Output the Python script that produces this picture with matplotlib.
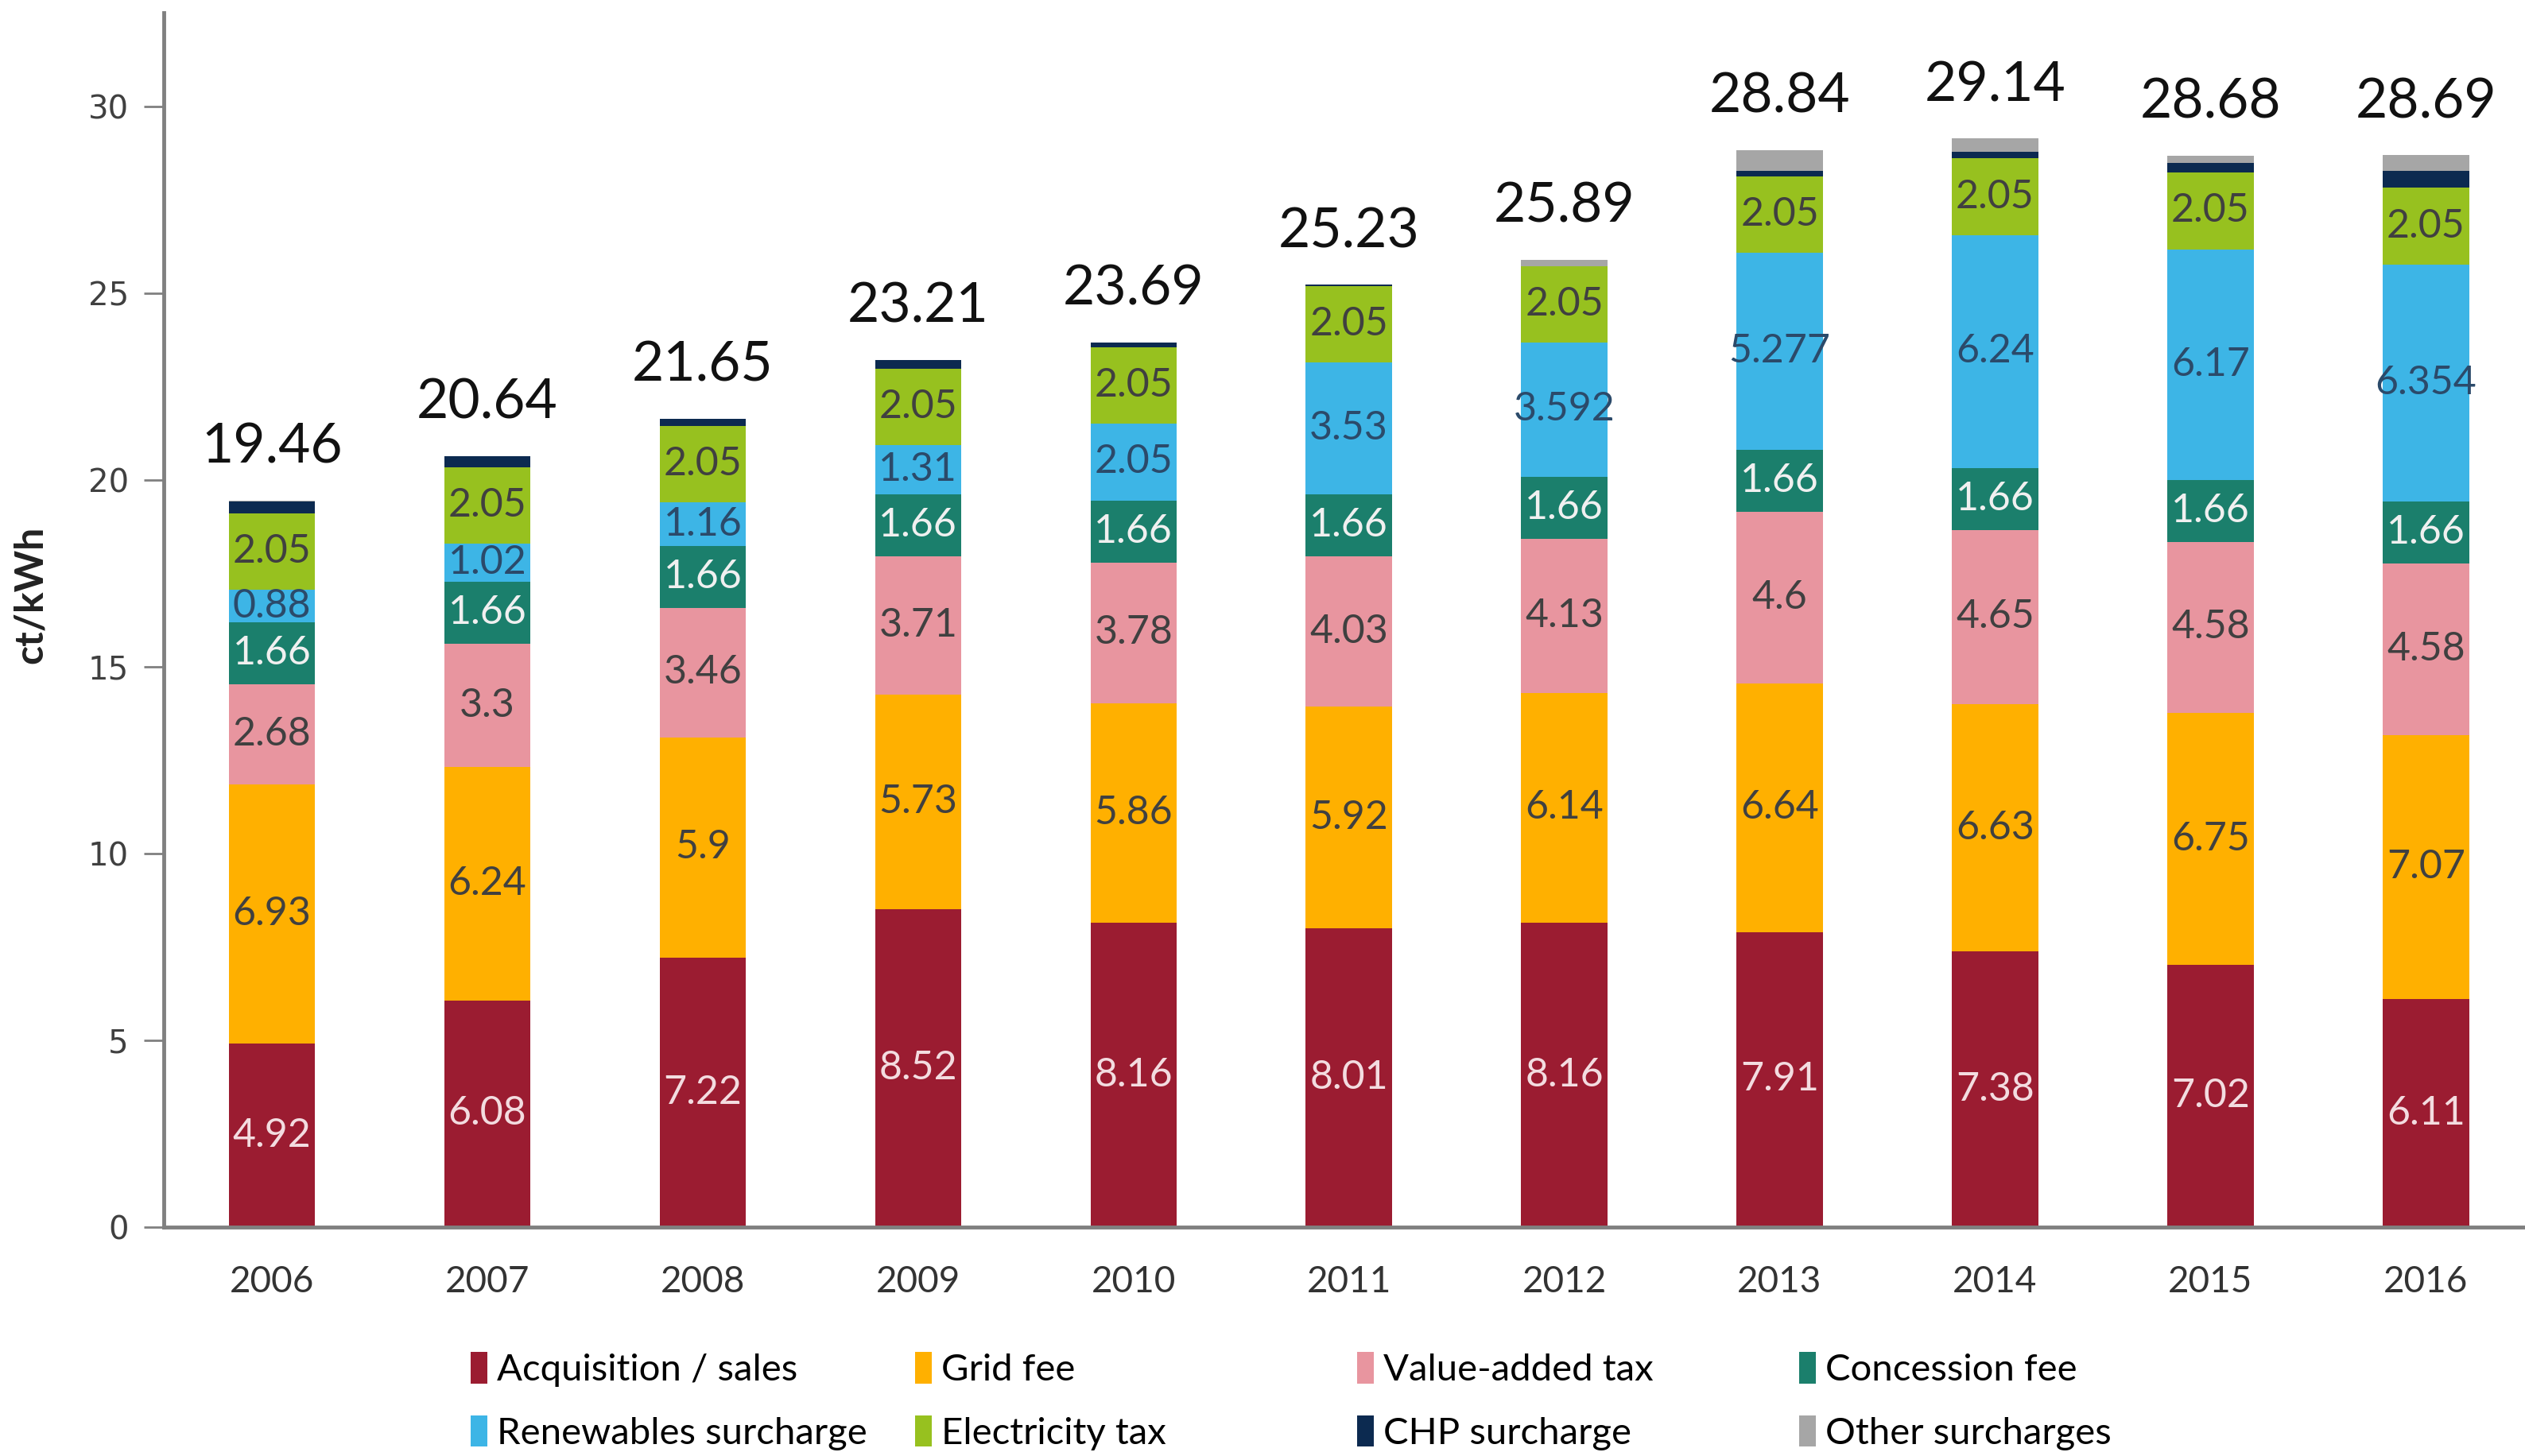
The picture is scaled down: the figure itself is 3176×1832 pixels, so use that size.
import numpy as np
import matplotlib
matplotlib.use("Agg")
import matplotlib.pyplot as plt
from matplotlib.patches import Patch

# data (ct/kWh)
years = ["2006", "2007", "2008", "2009", "2010", "2011", "2012", "2013", "2014", "2015", "2016"]
acquisition = [4.92, 6.08, 7.22, 8.52, 8.16, 8.01, 8.16, 7.91, 7.38, 7.02, 6.11]
grid_fee = [6.93, 6.24, 5.9, 5.73, 5.86, 5.92, 6.14, 6.64, 6.63, 6.75, 7.07]
vat = [2.68, 3.3, 3.46, 3.71, 3.78, 4.03, 4.13, 4.6, 4.65, 4.58, 4.58]
concession = [1.66] * 11
renewables = [0.88, 1.02, 1.16, 1.31, 2.05, 3.53, 3.592, 5.277, 6.24, 6.17, 6.354]
renewables_txt = ["0.88", "1.02", "1.16", "1.31", "2.05", "3.53", "3.592", "5.277", "6.24", "6.17", "6.354"]
elec_tax = [2.05] * 11
chp = [0.31, 0.29, 0.20, 0.23, 0.13, 0.03, 0.00, 0.13, 0.18, 0.25, 0.45]
other = [0.03, 0.00, 0.00, 0.00, 0.00, 0.00, 0.16, 0.57, 0.35, 0.20, 0.42]
totals = ["19.46", "20.64", "21.65", "23.21", "23.69", "25.23", "25.89", "28.84", "29.14", "28.68", "28.69"]

series = [
    ("Acquisition / sales", acquisition, "#9B1C31", "#F3DCE0"),
    ("Grid fee", grid_fee, "#FFB000", "#404040"),
    ("Value-added tax", vat, "#E8959F", "#404040"),
    ("Concession fee", concession, "#1B7F6C", "#F0F0F0"),
    ("Renewables surcharge", renewables, "#3DB5E6", "#2B4A6A"),
    ("Electricity tax", elec_tax, "#97C11F", "#404040"),
    ("CHP surcharge", chp, "#0C2A50", None),
    ("Other surcharges", other, "#A6A6A6", None),
]

plt.rcParams["font.family"] = ["Lato", "DejaVu Sans"]

fig = plt.figure(figsize=(31.76, 18.32), dpi=100)
ax = fig.add_axes([0.065, 0.157, 0.935, 0.834])

x = np.arange(len(years))
width = 0.40
bottom = np.zeros(len(years))
for name, vals, col, tcol in series:
    vals = np.array(vals, dtype=float)
    ax.bar(x, vals, width, bottom=bottom, color=col, label=name, linewidth=0)
    if tcol is not None:
        for i, v in enumerate(vals):
            if name == "Renewables surcharge":
                txt = renewables_txt[i]
            else:
                txt = f"{v:g}"
            ax.text(x[i], bottom[i] + v / 2, txt, ha="center", va="center",
                    fontsize=36, color=tcol)
    bottom += vals

for i, t in enumerate(totals):
    ax.text(x[i], bottom[i] + 0.75, t, ha="center", va="bottom", fontsize=50, color="#111111")

ax.set_xlim(-0.5, 10.46)
ax.set_ylim(0, 32.5)
ax.set_yticks([0, 5, 10, 15, 20, 25, 30])
ax.set_xticks(x)
ax.set_xticklabels(years)
ax.tick_params(axis="y", labelsize=29, length=18, width=2, color="#808080", pad=14, labelcolor="#404040")
ax.tick_params(axis="x", labelsize=33, length=0, pad=34, labelcolor="#333333")
for lbl in ax.get_yticklabels():
    lbl.set_family("DejaVu Sans")
for s in ["top", "right"]:
    ax.spines[s].set_visible(False)
for s in ["left", "bottom"]:
    ax.spines[s].set_color("#808080")
    ax.spines[s].set_linewidth(3.5)
ax.set_ylabel("ct/kWh", fontsize=36, fontweight="bold", color="#222222")
ax.yaxis.set_label_coords(-0.049, 0.521)

# legend: four fixed columns, two rows (row-major like the original)
col_x = [0.176, 0.352, 0.527, 0.702]
for c in range(4):
    items = [series[c], series[c + 4]]
    hs = [Patch(facecolor=s[2], edgecolor="none") for s in items]
    fig.legend(hs, [s[0] for s in items], loc="lower left", bbox_to_anchor=(col_x[c], -0.014),
               frameon=False, fontsize=34, handlelength=0.45, handleheight=0.9,
               handletextpad=0.25, labelspacing=0.75, borderaxespad=0.3)

fig.savefig("out.png", dpi=100)
